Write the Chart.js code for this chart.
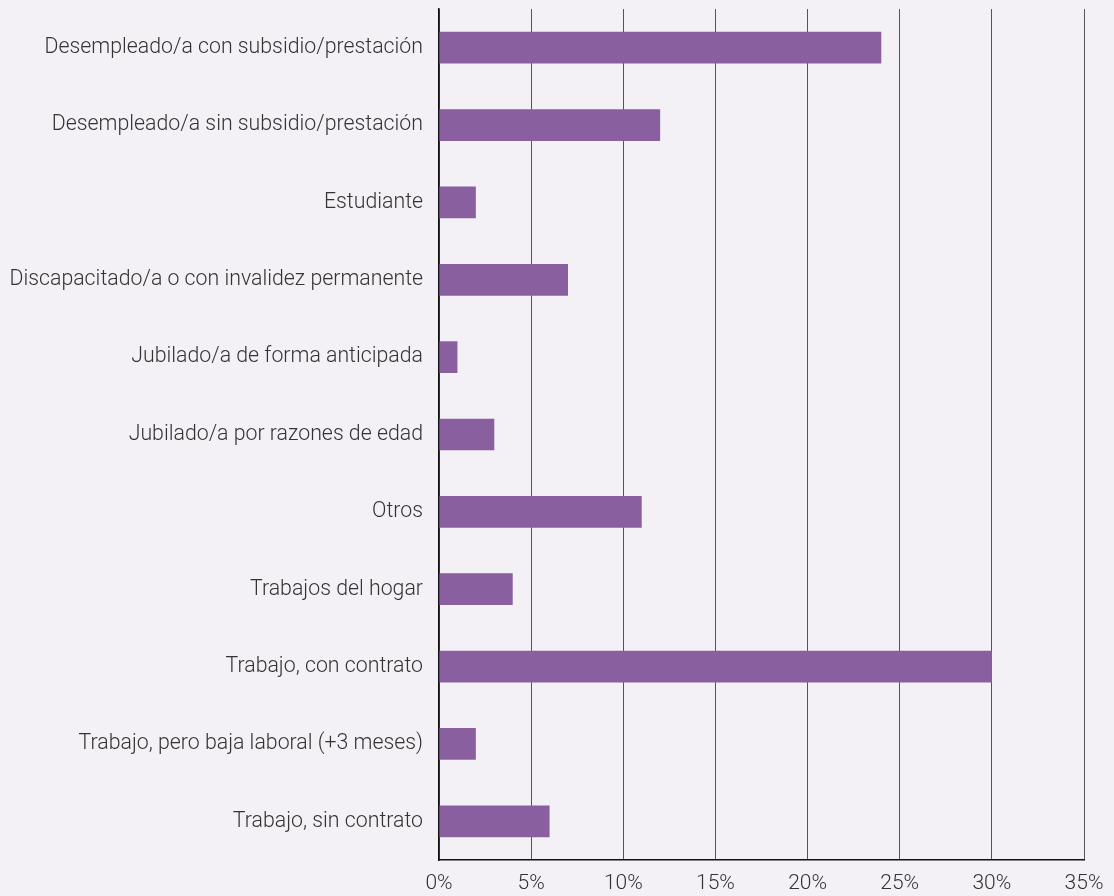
<!DOCTYPE html>
<html>
<head>
<meta charset="utf-8">
<script src="https://cdn.jsdelivr.net/npm/chart.js@4"></script>
<style>
  html, body { margin: 0; padding: 0; background: #f3f1f6; }
  #wrap { width: 1114px; height: 896px; }
</style>
</head>
<body>
<div id="wrap"><canvas id="myChart"></canvas></div>
<script>
// data
const categories = [
    'Desempleado/a con subsidio/prestación',
    'Desempleado/a sin subsidio/prestación',
    'Estudiante',
    'Discapacitado/a o con invalidez permanente',
    'Jubilado/a de forma anticipada',
    'Jubilado/a por razones de edad',
    'Otros',
    'Trabajos del hogar',
    'Trabajo, con contrato',
    'Trabajo, pero baja laboral (+3 meses)',
    'Trabajo, sin contrato'
];
const values = [24, 12, 2, 7, 1, 3, 11, 4, 30, 2, 6];
const xTicks = [0, 5, 10, 15, 20, 25, 30, 35];

Chart.defaults.font.family = 'Roboto';
Chart.defaults.font.weight = 300;
Chart.defaults.color = '#333';

let ctx = document.getElementById('myChart').getContext('2d');

let barChart = new Chart(ctx, {
    type: 'bar',
    data: {
        labels: categories,
        datasets: [{
            data: values,
            backgroundColor: '#8a5fa0',
            borderWidth: 0,
            barPercentage: 0.82,
            categoryPercentage: 0.5
        }]
    },
    options: {
        indexAxis: 'y',
        responsive: true,
        maintainAspectRatio: false,
        animation: false,
        layout: {
            padding: { top: 9, right: 30, left: 0, bottom: 0 }
        },
        plugins: {
            legend: { display: false },
            tooltip: { enabled: false }
        },
        scales: {
            x: {
                min: 0,
                max: 35,
                afterBuildTicks: function (scale) {
                    scale.ticks = xTicks.map(v => ({ value: v }));
                },
                afterFit: function (scale) {
                    scale.height = 36;
                    scale.paddingLeft = 0;
                    scale.paddingRight = 0;
                },
                ticks: {
                    padding: 11,
                    font: { size: 21, lineHeight: 1.2 },
                    callback: v => v + '%'
                },
                grid: {
                    color: '#555',
                    lineWidth: 1,
                    drawTicks: false
                },
                border: { display: true, color: '#111', width: 1.5 }
            },
            y: {
                afterFit: function (scale) {
                    scale.width = 439;
                    scale.paddingTop = 0;
                    scale.paddingBottom = 0;
                },
                ticks: {
                    padding: 16,
                    font: { size: 21.3 }
                },
                grid: { display: false, drawTicks: false },
                border: { display: true, color: '#111', width: 1.5 }
            }
        }
    }
});
</script>
</body>
</html>
